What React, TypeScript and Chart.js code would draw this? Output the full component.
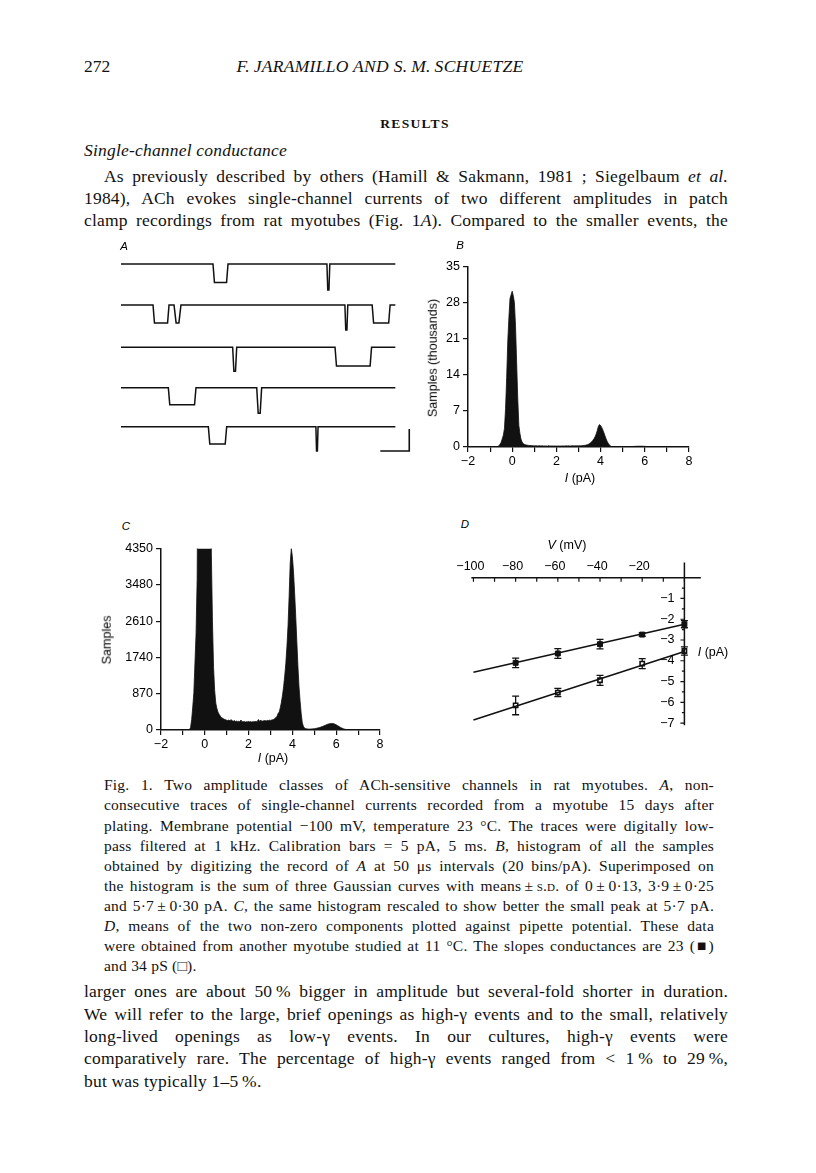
import React, { useEffect, useRef } from "react";
import { Chart, registerables } from "chart.js";

Chart.register(...registerables);

// ---------------- Panel A: single-channel current traces ----------------
const traceOffsets = [0, -9.3, -18.9, -28.1, -37.0]; // pA, baseline of each trace
const traceEnd = 47.3; // ms
// events: [start ms, end ms, amplitude pA]
const trace1Events = [[15.86, 18.45, 4.2], [35.5, 36.0, 5.9]];
const trace2Events = [[5.52, 8.28, 4.1], [9.14, 10.34, 4.1], [38.6, 39.1, 5.7], [43.3, 46.4, 4.1]];
const trace3Events = [[19.25, 19.95, 5.5], [36.9, 43.2, 4.3]];
const trace4Events = [[8.16, 12.93, 3.9], [23.4, 24.25, 5.8]];
const trace5Events = [[15.06, 18.22, 3.9], [33.6, 33.97, 5.5]];
const calibX = [44.7, 49.7, 49.7]; // 5 ms
const calibY = [-42.5, -42.5, -37.5]; // 5 pA

// ---------------- Panels B and C: amplitude histogram (20 bins/pA) ----------------
const histStart = -1.0;
const binWidth = 0.05;
const leadCounts = [0, 0, 0, 0, 0, 2]; // -1.00 .. -0.75
const zeroPeakCounts = [
  10, 60, 250, 550, 900, 1600, 2300, 3600, 7500, 13500, 20500, 25000, 28800, 29500,
  30200, 29300, 28000, 23500, 16500, 9500, 4200, 2600, 1500, 950, 650, 520, 430, 380,
  340, 300, 285, 270, 255, 245,
]; // -0.70 .. 0.95
const plateauCounts = [
  235, 225, 240, 215, 250, 220, 210, 225, 205, 215, 200, 210, 195, 240, 200, 195, 205,
  190, 200, 195, 205, 195, 200, 190, 200, 195, 205, 200, 210, 250, 205, 240, 210, 215,
  220, 225, 215, 230, 225, 235,
]; // 1.00 .. 2.95
const lowGammaPeakCounts = [
  230, 240, 245, 255, 275, 300, 330, 400, 430, 540, 670, 840, 1040, 1300, 1600, 2000,
  2500, 3200, 4000, 4350, 4150, 3800, 3300, 2750, 2150, 1550, 1050, 700, 400, 180, 90,
  50, 35,
]; // 3.00 .. 4.60
const highGammaPeakCounts = [
  28, 24, 22, 22, 24, 26, 28, 32, 36, 42, 48, 55, 62, 70, 80, 90, 100, 112, 124, 135,
  145, 152, 156, 157, 154, 147, 137, 124, 110, 94, 78, 62, 48, 36, 26, 18, 12, 8, 5, 3,
  2, 1, 0, 0, 0, 0, 0, 0,
]; // 4.65 .. 7.00
const histCounts = [
  ...leadCounts,
  ...zeroPeakCounts,
  ...plateauCounts,
  ...lowGammaPeakCounts,
  ...highGammaPeakCounts,
];
const bTicksY = { min: 0, max: 35, step: 7 }; // thousands
const cTicksY = { min: 0, max: 4350, step: 870 };
const histTicksX = { min: -2, max: 8, step: 1 };

// ---------------- Panel D: current-voltage relation ----------------
const ivVoltages = [-80, -60, -40, -20, 0];
const lowGammaI = [-4.1, -3.65, -3.2, -2.74, -2.24]; // filled squares, 23 pS
const lowGammaSD = [0.23, 0.23, 0.23, 0.08, 0.17];
const highGammaI = [-6.15, -5.53, -4.94, -4.14, -3.53]; // open squares, 34 pS
const highGammaSD = [0.45, 0.2, 0.24, 0.24, 0.2];
const fitV = [-100, 0];
const lowGammaFit = [-4.55, -2.24];
const highGammaFit = [-6.85, -3.55];
const vTicks = [-100, -90, -80, -70, -60, -50, -40, -30, -20, -10, 0];
const vLabels = [-100, -80, -60, -40, -20];
const vAxisExtent = [-101, 7.8];
const iMajorTicks = [-1, -2, -3, -4, -5, -6, -7];
const iMinorTicks = [-0.5, -1.5, -2.5, -3.5, -4.5, -5.5, -6.5];
const iLabels = [-1, -2, -3, -4, -5, -6, -7];
const iAxisExtent = [0.73, -7.1];

const SANS = '"Liberation Sans", Arial, sans-serif';
const SERIF = '"Liberation Serif", "Times New Roman", serif';
const INK = "#111";

const fmt = (v: number) => (v < 0 ? "\u2212" + Math.abs(v) : String(v));

function buildTrace(events: number[][], offset: number) {
  const pts: { x: number; y: number }[] = [{ x: 0, y: offset }];
  const ramp = 0.25;
  for (const [t0, t1, a] of events) {
    const d = t1 - t0;
    pts.push({ x: t0, y: offset });
    if (d < 1.2) {
      pts.push({ x: t0 + d * 0.3, y: offset - a });
      pts.push({ x: t1 - d * 0.3, y: offset - a });
    } else {
      pts.push({ x: t0 + ramp, y: offset - a });
      pts.push({ x: t1 - ramp, y: offset - a });
    }
    pts.push({ x: t1, y: offset });
  }
  pts.push({ x: traceEnd, y: offset });
  return pts;
}

function ChartCanvas({ left, top, width, height, config }: any) {
  const ref = useRef<HTMLCanvasElement>(null);
  useEffect(() => {
    const chart = new Chart(ref.current as HTMLCanvasElement, config());
    return () => chart.destroy();
  }, []);
  return (
    <canvas
      ref={ref}
      width={width}
      height={height}
      style={{ position: "absolute", left, top, width, height }}
    />
  );
}

const baseOptions = {
  animation: false,
  responsive: false,
  events: [],
  plugins: { legend: { display: false }, tooltip: { enabled: false } },
};

// ---------- Panel A config ----------
function traceConfig() {
  const all = [trace1Events, trace2Events, trace3Events, trace4Events, trace5Events];
  const datasets: any[] = all.map((ev, k) => ({
    data: buildTrace(ev, traceOffsets[k]),
    borderColor: INK,
    borderWidth: 1.5,
    pointRadius: 0,
    tension: 0,
    fill: false,
  }));
  datasets.push({
    data: calibX.map((x, i) => ({ x, y: calibY[i] })),
    borderColor: INK,
    borderWidth: 1.6,
    pointRadius: 0,
    tension: 0,
    fill: false,
  });
  return {
    type: "line",
    data: { datasets },
    options: {
      ...baseOptions,
      layout: { padding: 0 },
      scales: {
        x: { type: "linear", display: false, min: -1.897, max: 51.55 },
        y: { type: "linear", display: false, min: -45.68, max: 3.18 },
      },
    },
  };
}

// ---------- Panels B & C config ----------
function histConfig(divisor: number, yT: any, pad: any, yWidth: number, xHeight: number) {
  const tickFont = { family: SANS, size: 12.5 };
  const grid = {
    drawOnChartArea: false,
    drawTicks: true,
    tickLength: 5,
    color: INK,
    lineWidth: 1.2,
  };
  const border = { display: true, color: INK, width: 1.5 };
  return {
    type: "line",
    data: {
      datasets: [
        {
          data: histCounts.map((c, i) => ({ x: histStart + i * binWidth, y: c / divisor })),
          borderColor: INK,
          backgroundColor: INK,
          borderWidth: 0.8,
          pointRadius: 0,
          tension: 0,
          fill: "origin",
        },
      ],
    },
    options: {
      ...baseOptions,
      layout: { padding: pad },
      scales: {
        x: {
          type: "linear",
          min: histTicksX.min,
          max: histTicksX.max,
          afterFit: (s: any) => {
            s.height = xHeight;
          },
          ticks: {
            stepSize: histTicksX.step,
            autoSkip: false,
            maxRotation: 0,
            padding: 2,
            color: "#000",
            font: tickFont,
            callback: (v: any) => (Number(v) % 2 === 0 ? fmt(Number(v)) : ""),
          },
          grid,
          border,
        },
        y: {
          type: "linear",
          min: yT.min,
          max: yT.max,
          afterFit: (s: any) => {
            s.width = yWidth;
          },
          ticks: {
            stepSize: yT.step,
            autoSkip: false,
            padding: 3,
            color: "#000",
            font: tickFont,
            callback: (v: any) => fmt(Number(v)),
          },
          grid,
          border,
        },
      },
    },
  };
}

// ---------- Panel D config ----------
const ivAxesPlugin = {
  id: "ivAxes",
  afterDraw(chart: any) {
    const { ctx } = chart;
    const xs = chart.scales.x;
    const ys = chart.scales.y;
    const x0 = xs.getPixelForValue(0);
    const y0 = ys.getPixelForValue(0);
    ctx.save();
    ctx.strokeStyle = INK;
    ctx.fillStyle = "#000";
    ctx.lineWidth = 1.5;
    ctx.beginPath();
    ctx.moveTo(xs.getPixelForValue(vAxisExtent[0]), y0);
    ctx.lineTo(xs.getPixelForValue(vAxisExtent[1]), y0);
    ctx.moveTo(x0, ys.getPixelForValue(iAxisExtent[0]));
    ctx.lineTo(x0, ys.getPixelForValue(iAxisExtent[1]));
    ctx.stroke();
    ctx.lineWidth = 1.2;
    ctx.beginPath();
    for (const v of vTicks) {
      const px = xs.getPixelForValue(v);
      ctx.moveTo(px, y0);
      ctx.lineTo(px, y0 + 4);
    }
    for (const i of iMajorTicks) {
      const py = ys.getPixelForValue(i);
      ctx.moveTo(x0, py);
      ctx.lineTo(x0 - 4, py);
    }
    for (const i of iMinorTicks) {
      const py = ys.getPixelForValue(i);
      ctx.moveTo(x0, py);
      ctx.lineTo(x0 - 2.5, py);
    }
    ctx.stroke();
    ctx.font = `12.5px ${SANS}`;
    ctx.textAlign = "center";
    ctx.textBaseline = "middle";
    for (const v of vLabels) ctx.fillText(fmt(v), xs.getPixelForValue(v) - 3, y0 - 11);
    ctx.textAlign = "right";
    for (const i of iLabels) ctx.fillText(fmt(i), x0 - 10, ys.getPixelForValue(i));
    ctx.restore();
  },
};

const errorBarPlugin = {
  id: "errorBars",
  beforeDatasetsDraw(chart: any) {
    const { ctx } = chart;
    const xs = chart.scales.x;
    const ys = chart.scales.y;
    ctx.save();
    ctx.strokeStyle = INK;
    ctx.lineWidth = 1.3;
    chart.data.datasets.forEach((ds: any) => {
      if (!ds.errors) return;
      ds.data.forEach((p: any, k: number) => {
        const e = ds.errors[k];
        const px = xs.getPixelForValue(p.x);
        const yt = ys.getPixelForValue(p.y + e);
        const yb = ys.getPixelForValue(p.y - e);
        ctx.beginPath();
        ctx.moveTo(px, yt);
        ctx.lineTo(px, yb);
        ctx.moveTo(px - 3.5, yt);
        ctx.lineTo(px + 3.5, yt);
        ctx.moveTo(px - 3.5, yb);
        ctx.lineTo(px + 3.5, yb);
        ctx.stroke();
      });
    });
    ctx.restore();
  },
};

function ivConfig() {
  const fitStyle = {
    showLine: true,
    borderColor: INK,
    borderWidth: 1.6,
    pointRadius: 0,
    tension: 0,
    fill: false,
  };
  return {
    type: "scatter",
    data: {
      datasets: [
        { ...fitStyle, data: fitV.map((x, i) => ({ x, y: lowGammaFit[i] })) },
        { ...fitStyle, data: fitV.map((x, i) => ({ x, y: highGammaFit[i] })) },
        {
          data: ivVoltages.map((x, i) => ({ x, y: lowGammaI[i] })),
          errors: lowGammaSD,
          pointStyle: "rect",
          pointRadius: 3.5,
          backgroundColor: INK,
          borderColor: INK,
          borderWidth: 1,
        },
        {
          data: ivVoltages.map((x, i) => ({ x, y: highGammaI[i] })),
          errors: highGammaSD,
          pointStyle: "rect",
          pointRadius: 3,
          backgroundColor: "#fff",
          borderColor: INK,
          borderWidth: 1.6,
        },
      ],
    },
    options: {
      ...baseOptions,
      layout: { padding: 0 },
      scales: {
        x: { type: "linear", display: false, min: -113.2, max: 23.7 },
        y: { type: "linear", display: false, min: -7.545, max: 1.545 },
      },
    },
    plugins: [errorBarPlugin, ivAxesPlugin],
  };
}

// ---------------- Text helpers ----------------
function TLine({ x, y, w, size, last, spacing, children, style }: any) {
  const lh = size * 1.2;
  return (
    <div
      style={{
        position: "absolute",
        left: x,
        top: y - 0.62 * size,
        width: w,
        fontFamily: SERIF,
        fontSize: size,
        lineHeight: `${lh}px`,
        letterSpacing: spacing || 0,
        color: INK,
        textAlign: last ? "left" : "justify",
        textAlignLast: last ? "left" : "justify",
        ...style,
      }}
    >
      {children}
    </div>
  );
}

function CText({ cx, cy, size, rotate, italic, family, children, style }: any) {
  return (
    <div
      style={{
        position: "absolute",
        left: cx,
        top: cy,
        transform: `translate(-50%, -50%)${rotate ? " rotate(-90deg)" : ""}`,
        whiteSpace: "nowrap",
        fontFamily: family || SANS,
        fontSize: size,
        lineHeight: 1,
        fontStyle: italic ? "italic" : "normal",
        color: "#000",
        ...style,
      }}
    >
      {children}
    </div>
  );
}

const SC = ({ children }: any) => <span style={{ fontVariant: "small-caps" }}>{children}</span>;
const I = ({ children }: any) => <i>{children}</i>;
const NB = "\u202F";

const paraLines = [
  <>
    As previously described by others (Hamill &amp; Sakmann, 1981 ; Siegelbaum <I>et al.</I>
  </>,
  <>1984), ACh evokes single-channel currents of two different amplitudes in patch</>,
  <>
    clamp recordings from rat myotubes (Fig. 1<I>A</I>). Compared to the smaller events, the
  </>,
];

const captionLines = [
  <>
    Fig. 1. Two amplitude classes of ACh-sensitive channels in rat myotubes. <I>A</I>, non-
  </>,
  <>consecutive traces of single-channel currents recorded from a myotube 15 days after</>,
  <>
    plating. Membrane potential {"\u2212"}100 mV, temperature 23 °C. The traces were digitally low-
  </>,
  <>
    pass filtered at 1 kHz. Calibration bars = 5 pA, 5 ms. <I>B</I>, histogram of all the samples
  </>,
  <>
    obtained by digitizing the record of <I>A</I> at 50 μs intervals (20 bins/pA). Superimposed on
  </>,
  <>
    the histogram is the sum of three Gaussian curves with means{NB}±{NB}
    <SC>s.d.</SC> of 0{NB}±{NB}0·13, 3·9{NB}±{NB}0·25
  </>,
  <>
    and 5·7{NB}±{NB}0·30 pA. <I>C</I>, the same histogram rescaled to show better the small peak at 5·7 pA.
  </>,
  <>
    <I>D</I>, means of the two non-zero components plotted against pipette potential. These data
  </>,
  <>were obtained from another myotube studied at 11 °C. The slopes conductances are 23 (■)</>,
  <>and 34 pS (□).</>,
];

const bottomLines = [
  <>larger ones are about 50{NB}% bigger in amplitude but several-fold shorter in duration.</>,
  <>We will refer to the large, brief openings as high-γ events and to the small, relatively</>,
  <>long-lived openings as low-γ events. In our cultures, high-γ events were</>,
  <>comparatively rare. The percentage of high-γ events ranged from {"<"} 1{NB}% to 29{NB}%,</>,
  <>but was typically 1–5{NB}%.</>,
];

export default function App() {
  const body = 17.5;
  const bodySp = 0.2;
  const cap = 15.5;
  const capSp = 0.22;
  return (
    <div
      style={{
        position: "absolute",
        left: 0,
        top: 0,
        width: 816,
        height: 1173,
        background: "#fff",
        overflow: "hidden",
      }}
    >
      {/* Charts */}
      <ChartCanvas left={110} top={250} width={310} height={215} config={traceConfig} />
      <ChartCanvas
        left={410}
        top={256}
        width={290}
        height={220}
        config={() =>
          histConfig(1000, bTicksY, { left: 8, top: 10, right: 11, bottom: 0 }, 50, 29)
        }
      />
      <ChartCanvas
        left={95}
        top={538}
        width={295}
        height={222}
        config={() => histConfig(1, cTicksY, { left: 0, top: 10, right: 10, bottom: 0 }, 66, 30)}
      />
      <ChartCanvas left={440} top={540} width={300} height={200} config={ivConfig} />

      {/* Page header */}
      <TLine x={84} y={67} w={60} size={body} last>
        272
      </TLine>
      <TLine x={180} y={67} w={400} size={body} last spacing={0.3} style={{ textAlign: "center", textAlignLast: "center", fontStyle: "italic" }}>
        F.{NB}JARAMILLO AND S.{NB}M.{NB}SCHUETZE
      </TLine>
      <TLine x={300} y={124} w={230} size={13.5} last spacing={1.3} style={{ textAlign: "center", textAlignLast: "center", fontWeight: "bold" }}>
        RESULTS
      </TLine>
      <TLine x={84} y={151} w={400} size={body} last spacing={bodySp} style={{ fontStyle: "italic" }}>
        Single-channel conductance
      </TLine>
      {paraLines.map((l, i) => (
        <TLine key={"p" + i} x={i === 0 ? 104 : 84} y={177 + 22 * i} w={i === 0 ? 624 : 644} size={body} spacing={bodySp}>
          {l}
        </TLine>
      ))}

      {/* Panel labels and axis titles */}
      <CText cx={124} cy={247} size={11.5} italic>A</CText>
      <CText cx={460} cy={246} size={11.5} italic>B</CText>
      <CText cx={126} cy={527} size={11.5} italic>C</CText>
      <CText cx={465} cy={525} size={11.5} italic>D</CText>

      <CText cx={433} cy={358} size={12.5} rotate>Samples (thousands)</CText>
      <CText cx={580} cy={478} size={12.5}>
        <i>I</i> (pA)
      </CText>
      <CText cx={107} cy={640} size={12.5} rotate>Samples</CText>
      <CText cx={273} cy={758} size={12.5}>
        <i>I</i> (pA)
      </CText>
      <CText cx={567} cy={545} size={12.5}>
        <i>V</i> (mV)
      </CText>
      <CText cx={713} cy={652} size={12.5}>
        <i>I</i> (pA)
      </CText>

      {/* Caption */}
      {captionLines.map((l, i) => (
        <TLine key={"c" + i} x={104} y={786 + 20.1 * i} w={610} size={cap} spacing={capSp} last={i === captionLines.length - 1}>
          {l}
        </TLine>
      ))}

      {/* Following paragraph */}
      {bottomLines.map((l, i) => (
        <TLine key={"b" + i} x={84} y={992 + 22.4 * i} w={644} size={body} spacing={bodySp} last={i === bottomLines.length - 1}>
          {l}
        </TLine>
      ))}
    </div>
  );
}
